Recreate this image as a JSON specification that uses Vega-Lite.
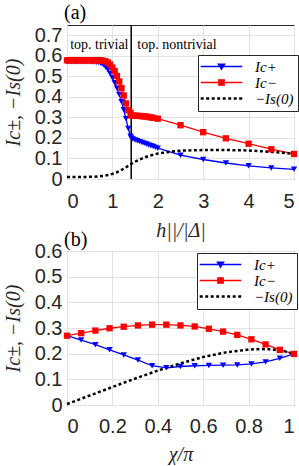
{
  "$schema": "https://vega.github.io/schema/vega-lite/v6.json",
  "background": "white",
  "padding": {"left": 2, "top": 2, "right": 0, "bottom": 0},
  "datasets": {
    "a": [
      {"x": 0.0, "y": 0.571, "s": "Ic+"}, {"x": 0.05, "y": 0.571, "s": "Ic+"}, {"x": 0.1, "y": 0.571, "s": "Ic+"}, {"x": 0.15, "y": 0.571, "s": "Ic+"}, {"x": 0.2, "y": 0.571, "s": "Ic+"}, {"x": 0.25, "y": 0.571, "s": "Ic+"}, {"x": 0.3, "y": 0.571, "s": "Ic+"}, {"x": 0.35, "y": 0.571, "s": "Ic+"}, {"x": 0.4, "y": 0.571, "s": "Ic+"}, {"x": 0.45, "y": 0.571, "s": "Ic+"}, {"x": 0.5, "y": 0.571, "s": "Ic+"}, {"x": 0.55, "y": 0.57, "s": "Ic+"}, {"x": 0.6, "y": 0.57, "s": "Ic+"}, {"x": 0.65, "y": 0.569, "s": "Ic+"}, {"x": 0.7, "y": 0.567, "s": "Ic+"}, {"x": 0.75, "y": 0.563, "s": "Ic+"}, {"x": 0.8, "y": 0.556, "s": "Ic+"}, {"x": 0.85, "y": 0.546, "s": "Ic+"}, {"x": 0.9, "y": 0.532, "s": "Ic+"}, {"x": 0.95, "y": 0.514, "s": "Ic+"}, {"x": 1.0, "y": 0.493, "s": "Ic+"}, {"x": 1.05, "y": 0.469, "s": "Ic+"}, {"x": 1.1, "y": 0.442, "s": "Ic+"}, {"x": 1.15, "y": 0.411, "s": "Ic+"}, {"x": 1.2, "y": 0.376, "s": "Ic+"}, {"x": 1.25, "y": 0.337, "s": "Ic+"}, {"x": 1.3, "y": 0.293, "s": "Ic+"}, {"x": 1.35, "y": 0.246, "s": "Ic+"}, {"x": 1.4, "y": 0.208, "s": "Ic+"}, {"x": 1.414, "y": 0.2, "s": "Ic+"}, {"x": 1.45, "y": 0.195, "s": "Ic+"}, {"x": 1.5, "y": 0.19, "s": "Ic+"}, {"x": 1.55, "y": 0.186, "s": "Ic+"}, {"x": 1.6, "y": 0.182, "s": "Ic+"}, {"x": 1.65, "y": 0.178, "s": "Ic+"}, {"x": 1.7, "y": 0.174, "s": "Ic+"}, {"x": 1.75, "y": 0.17, "s": "Ic+"}, {"x": 1.8, "y": 0.166, "s": "Ic+"}, {"x": 1.85, "y": 0.162, "s": "Ic+"}, {"x": 1.9, "y": 0.158, "s": "Ic+"}, {"x": 1.95, "y": 0.154, "s": "Ic+"}, {"x": 2.0, "y": 0.15, "s": "Ic+"}, {"x": 2.5, "y": 0.116, "s": "Ic+"}, {"x": 3.0, "y": 0.095, "s": "Ic+"}, {"x": 3.5, "y": 0.078, "s": "Ic+"}, {"x": 4.0, "y": 0.064, "s": "Ic+"}, {"x": 4.5, "y": 0.054, "s": "Ic+"}, {"x": 5.0, "y": 0.047, "s": "Ic+"},
      {"x": 0.0, "y": 0.578, "s": "Ic−"}, {"x": 0.05, "y": 0.578, "s": "Ic−"}, {"x": 0.1, "y": 0.578, "s": "Ic−"}, {"x": 0.15, "y": 0.578, "s": "Ic−"}, {"x": 0.2, "y": 0.578, "s": "Ic−"}, {"x": 0.25, "y": 0.578, "s": "Ic−"}, {"x": 0.3, "y": 0.578, "s": "Ic−"}, {"x": 0.35, "y": 0.578, "s": "Ic−"}, {"x": 0.4, "y": 0.578, "s": "Ic−"}, {"x": 0.45, "y": 0.578, "s": "Ic−"}, {"x": 0.5, "y": 0.578, "s": "Ic−"}, {"x": 0.55, "y": 0.578, "s": "Ic−"}, {"x": 0.6, "y": 0.578, "s": "Ic−"}, {"x": 0.65, "y": 0.578, "s": "Ic−"}, {"x": 0.7, "y": 0.578, "s": "Ic−"}, {"x": 0.75, "y": 0.577, "s": "Ic−"}, {"x": 0.8, "y": 0.576, "s": "Ic−"}, {"x": 0.85, "y": 0.573, "s": "Ic−"}, {"x": 0.9, "y": 0.567, "s": "Ic−"}, {"x": 0.95, "y": 0.557, "s": "Ic−"}, {"x": 1.0, "y": 0.543, "s": "Ic−"}, {"x": 1.05, "y": 0.525, "s": "Ic−"}, {"x": 1.1, "y": 0.502, "s": "Ic−"}, {"x": 1.15, "y": 0.475, "s": "Ic−"}, {"x": 1.2, "y": 0.443, "s": "Ic−"}, {"x": 1.25, "y": 0.407, "s": "Ic−"}, {"x": 1.3, "y": 0.368, "s": "Ic−"}, {"x": 1.35, "y": 0.335, "s": "Ic−"}, {"x": 1.4, "y": 0.322, "s": "Ic−"}, {"x": 1.414, "y": 0.31, "s": "Ic−"}, {"x": 1.45, "y": 0.308, "s": "Ic−"}, {"x": 1.5, "y": 0.308, "s": "Ic−"}, {"x": 1.55, "y": 0.308, "s": "Ic−"}, {"x": 1.6, "y": 0.307, "s": "Ic−"}, {"x": 1.65, "y": 0.306, "s": "Ic−"}, {"x": 1.7, "y": 0.305, "s": "Ic−"}, {"x": 1.75, "y": 0.304, "s": "Ic−"}, {"x": 1.8, "y": 0.302, "s": "Ic−"}, {"x": 1.85, "y": 0.3, "s": "Ic−"}, {"x": 1.9, "y": 0.298, "s": "Ic−"}, {"x": 2.0, "y": 0.294, "s": "Ic−"}, {"x": 2.5, "y": 0.262, "s": "Ic−"}, {"x": 3.0, "y": 0.228, "s": "Ic−"}, {"x": 3.5, "y": 0.198, "s": "Ic−"}, {"x": 4.0, "y": 0.172, "s": "Ic−"}, {"x": 4.5, "y": 0.145, "s": "Ic−"}, {"x": 5.0, "y": 0.122, "s": "Ic−"},
      {"x": 0.0, "y": 0.01, "s": "−Is(0)"}, {"x": 0.2, "y": 0.01, "s": "−Is(0)"}, {"x": 0.4, "y": 0.01, "s": "−Is(0)"}, {"x": 0.6, "y": 0.011, "s": "−Is(0)"}, {"x": 0.8, "y": 0.015, "s": "−Is(0)"}, {"x": 0.9, "y": 0.019, "s": "−Is(0)"}, {"x": 1.0, "y": 0.025, "s": "−Is(0)"}, {"x": 1.1, "y": 0.033, "s": "−Is(0)"}, {"x": 1.2, "y": 0.044, "s": "−Is(0)"}, {"x": 1.3, "y": 0.057, "s": "−Is(0)"}, {"x": 1.414, "y": 0.073, "s": "−Is(0)"}, {"x": 1.5, "y": 0.084, "s": "−Is(0)"}, {"x": 1.6, "y": 0.095, "s": "−Is(0)"}, {"x": 1.7, "y": 0.104, "s": "−Is(0)"}, {"x": 1.8, "y": 0.112, "s": "−Is(0)"}, {"x": 1.9, "y": 0.118, "s": "−Is(0)"}, {"x": 2.0, "y": 0.124, "s": "−Is(0)"}, {"x": 2.25, "y": 0.132, "s": "−Is(0)"}, {"x": 2.5, "y": 0.138, "s": "−Is(0)"}, {"x": 3.0, "y": 0.141, "s": "−Is(0)"}, {"x": 3.5, "y": 0.141, "s": "−Is(0)"}, {"x": 4.0, "y": 0.139, "s": "−Is(0)"}, {"x": 4.5, "y": 0.132, "s": "−Is(0)"}, {"x": 5.0, "y": 0.123, "s": "−Is(0)"}
    ],
    "b": [
      {"x": 0.0, "y": 0.27, "s": "Ic+"}, {"x": 0.0625, "y": 0.253, "s": "Ic+"}, {"x": 0.125, "y": 0.235, "s": "Ic+"}, {"x": 0.1875, "y": 0.215, "s": "Ic+"}, {"x": 0.25, "y": 0.195, "s": "Ic+"}, {"x": 0.3125, "y": 0.175, "s": "Ic+"}, {"x": 0.375, "y": 0.153, "s": "Ic+"}, {"x": 0.4375, "y": 0.145, "s": "Ic+"}, {"x": 0.5, "y": 0.15, "s": "Ic+"}, {"x": 0.5625, "y": 0.153, "s": "Ic+"}, {"x": 0.625, "y": 0.154, "s": "Ic+"}, {"x": 0.6875, "y": 0.155, "s": "Ic+"}, {"x": 0.75, "y": 0.156, "s": "Ic+"}, {"x": 0.8125, "y": 0.16, "s": "Ic+"}, {"x": 0.875, "y": 0.168, "s": "Ic+"}, {"x": 0.9375, "y": 0.182, "s": "Ic+"}, {"x": 1.0, "y": 0.199, "s": "Ic+"},
      {"x": 0.0, "y": 0.27, "s": "Ic−"}, {"x": 0.0625, "y": 0.28, "s": "Ic−"}, {"x": 0.125, "y": 0.29, "s": "Ic−"}, {"x": 0.1875, "y": 0.299, "s": "Ic−"}, {"x": 0.25, "y": 0.305, "s": "Ic−"}, {"x": 0.3125, "y": 0.31, "s": "Ic−"}, {"x": 0.375, "y": 0.313, "s": "Ic−"}, {"x": 0.4375, "y": 0.313, "s": "Ic−"}, {"x": 0.5, "y": 0.31, "s": "Ic−"}, {"x": 0.5625, "y": 0.306, "s": "Ic−"}, {"x": 0.625, "y": 0.297, "s": "Ic−"}, {"x": 0.6875, "y": 0.286, "s": "Ic−"}, {"x": 0.75, "y": 0.273, "s": "Ic−"}, {"x": 0.8125, "y": 0.256, "s": "Ic−"}, {"x": 0.875, "y": 0.236, "s": "Ic−"}, {"x": 0.9375, "y": 0.215, "s": "Ic−"}, {"x": 1.0, "y": 0.199, "s": "Ic−"},
      {"x": 0.0, "y": 0.004, "s": "−Is(0)"}, {"x": 0.05, "y": 0.02, "s": "−Is(0)"}, {"x": 0.1, "y": 0.037, "s": "−Is(0)"}, {"x": 0.2, "y": 0.07, "s": "−Is(0)"}, {"x": 0.3, "y": 0.103, "s": "−Is(0)"}, {"x": 0.4, "y": 0.134, "s": "−Is(0)"}, {"x": 0.5, "y": 0.162, "s": "−Is(0)"}, {"x": 0.6, "y": 0.187, "s": "−Is(0)"}, {"x": 0.7, "y": 0.205, "s": "−Is(0)"}, {"x": 0.8, "y": 0.216, "s": "−Is(0)"}, {"x": 0.85, "y": 0.218, "s": "−Is(0)"}, {"x": 0.9, "y": 0.217, "s": "−Is(0)"}, {"x": 0.95, "y": 0.211, "s": "−Is(0)"}, {"x": 1.0, "y": 0.2, "s": "−Is(0)"}
    ],
    "trans": [{"h": 1.4142}],
    "notes": [{"x": 0.07, "y": 0.655, "t": "top. trivial"}, {"x": 1.55, "y": 0.655, "t": "top. nontrivial"}]
  },
  "config": {
    "view": {"stroke": "#262626", "strokeWidth": 1},
    "axis": {
      "labelFont": "Liberation Sans", "labelFontSize": 20, "labelColor": "#262626", "labelOverlap": false,
      "ticks": false, "domain": false, "grid": true, "gridColor": "#e2e2e2", "gridWidth": 1,
      "titleFont": "Liberation Serif", "titleFontStyle": "italic", "titleFontWeight": "normal",
      "titleFontSize": 20, "titleColor": "#262626"
    },
    "title": {"font": "Liberation Serif", "fontSize": 20, "fontWeight": "normal", "anchor": "start", "frame": "group", "color": "black", "offset": 1, "dx": -3},
    "legend": {
      "orient": "none", "title": null, "strokeColor": "#262626", "fillColor": "white", "padding": 4,
      "symbolSize": 256, "symbolOffset": 12, "labelOffset": 26, "rowPadding": 0,
      "labelFont": "Liberation Serif", "labelFontStyle": "italic", "labelFontSize": 15, "labelColor": "black",
      "cornerRadius": 0
    }
  },
  "spacing": 72,
  "bounds": "flush",
  "resolve": {"scale": {"color": "independent", "shape": "independent"}, "legend": {"color": "independent"}},
  "vconcat": [
    {
      "width": 227, "height": 154,
      "title": {"text": "(a)"},
      "encoding": {
        "x": {"type": "quantitative", "scale": {"domain": [0, 5], "nice": false},
              "axis": {"values": [0, 1, 2, 3, 4, 5], "labelOverlap": false, "title": "h||/|Δ|", "labelPadding": 12, "titlePadding": 9}},
        "y": {"type": "quantitative", "scale": {"domain": [0, 0.75], "nice": false},
              "axis": {"values": [0, 0.1, 0.2, 0.3, 0.4, 0.5, 0.6, 0.7], "tickCount": 8, "labelOverlap": false, "format": ".1~f", "title": "Ic±, −Is(0)", "labelPadding": 5, "titleX": -44}}
      },
      "layer": [
        {
          "data": {"name": "a"},
          "transform": [{"filter": "datum.s !== '−Is(0)'"}],
          "mark": {"type": "line", "strokeWidth": 1.3},
          "encoding": {
            "x": {"field": "x"},
            "y": {"field": "y"},
            "color": {"field": "s", "type": "nominal",
                      "scale": {"domain": ["Ic+", "Ic−", "−Is(0)"], "range": ["#0000ff", "#ff0000", "#000000"]},
                      "legend": {"legendX": 131, "legendY": 30,
                        "encode": {"symbols": {"update": {
                          "shape": {"signal": "datum.value === 'Ic+' ? 'M-2.6,0H2.6M-0.4,-0.3L0.4,-0.3L0,0.35Z' : datum.value === 'Ic−' ? 'M-2.6,0H2.6M-0.34,-0.34H0.34V0.34H-0.34Z' : 'M-2.6,0H2.6'"},
                          "fill": {"signal": "datum.value === 'Ic+' ? '#0000ff' : datum.value === 'Ic−' ? '#ff0000' : 'transparent'"},
                          "stroke": {"signal": "datum.value === 'Ic+' ? '#0000ff' : datum.value === 'Ic−' ? '#ff0000' : '#000000'"},
                          "strokeDash": {"signal": "datum.value === '−Is(0)' ? [3, 2.5] : [1, 0]"},
                          "strokeWidth": {"signal": "datum.value === '−Is(0)' ? 2.5 : 1.3"},
                          "opacity": {"value": 1}
                        }}}}}
          }
        },
        {
          "data": {"name": "trans"},
          "mark": {"type": "rule", "color": "black", "strokeWidth": 1.5},
          "encoding": {"x": {"field": "h"}, "y": null}
        },
        {
          "data": {"name": "a"},
          "transform": [{"filter": "datum.s === '−Is(0)'"}],
          "mark": {"type": "line", "strokeWidth": 2.5, "strokeDash": [3, 2.5]},
          "encoding": {
            "x": {"field": "x"},
            "y": {"field": "y"},
            "color": {"field": "s", "type": "nominal"}
          }
        },
        {
          "data": {"name": "a"},
          "transform": [{"filter": "datum.s !== '−Is(0)'"}],
          "mark": {"type": "point", "filled": true, "size": 40, "opacity": 1},
          "encoding": {
            "x": {"field": "x"},
            "y": {"field": "y"},
            "color": {"field": "s", "type": "nominal"},
            "shape": {"field": "s", "type": "nominal", "scale": {"domain": ["Ic+", "Ic−"], "range": ["triangle-down", "square"]}, "legend": null}
          }
        },
        {
          "data": {"name": "notes"},
          "mark": {"type": "text", "align": "left", "baseline": "middle", "font": "Liberation Serif", "fontSize": 14, "color": "black"},
          "encoding": {
            "x": {"field": "x"},
            "y": {"field": "y"},
            "text": {"field": "t"}
          }
        }
      ]
    },
    {
      "width": 227, "height": 154,
      "title": {"text": "(b)", "dy": 10},
      "data": {"name": "b"},
      "encoding": {
        "x": {"field": "x", "type": "quantitative", "scale": {"domain": [0, 1], "nice": false},
              "axis": {"values": [0, 0.2, 0.4, 0.6, 0.8, 1], "labelOverlap": false, "format": ".1~f", "title": "χ/π", "labelPadding": 11, "titlePadding": 8}},
        "y": {"field": "y", "type": "quantitative", "scale": {"domain": [0, 0.6], "nice": false},
              "axis": {"values": [0, 0.1, 0.2, 0.3, 0.4, 0.5, 0.6], "tickCount": 7, "labelOverlap": false, "format": ".1~f", "title": "Ic±, −Is(0)", "labelPadding": 5, "titleX": -44}}
      },
      "layer": [
        {
          "transform": [{"filter": "datum.s !== '−Is(0)'"}],
          "mark": {"type": "line", "strokeWidth": 1.3},
          "encoding": {
            "color": {"field": "s", "type": "nominal",
                      "scale": {"domain": ["Ic+", "Ic−", "−Is(0)"], "range": ["#0000ff", "#ff0000", "#000000"]},
                      "legend": {"legendX": 130, "legendY": 2,
                        "encode": {"symbols": {"update": {
                          "shape": {"signal": "datum.value === 'Ic+' ? 'M-2.6,0H2.6M-0.4,-0.3L0.4,-0.3L0,0.35Z' : datum.value === 'Ic−' ? 'M-2.6,0H2.6M-0.34,-0.34H0.34V0.34H-0.34Z' : 'M-2.6,0H2.6'"},
                          "fill": {"signal": "datum.value === 'Ic+' ? '#0000ff' : datum.value === 'Ic−' ? '#ff0000' : 'transparent'"},
                          "stroke": {"signal": "datum.value === 'Ic+' ? '#0000ff' : datum.value === 'Ic−' ? '#ff0000' : '#000000'"},
                          "strokeDash": {"signal": "datum.value === '−Is(0)' ? [3, 2.5] : [1, 0]"},
                          "strokeWidth": {"signal": "datum.value === '−Is(0)' ? 2.5 : 1.3"},
                          "opacity": {"value": 1}
                        }}}}}
          }
        },
        {
          "transform": [{"filter": "datum.s === '−Is(0)'"}],
          "mark": {"type": "line", "strokeWidth": 2.5, "strokeDash": [3, 2.5]},
          "encoding": {
            "color": {"field": "s", "type": "nominal"}
          }
        },
        {
          "transform": [{"filter": "datum.s !== '−Is(0)'"}],
          "mark": {"type": "point", "filled": true, "size": 40, "opacity": 1},
          "encoding": {
            "color": {"field": "s", "type": "nominal"},
            "shape": {"field": "s", "type": "nominal", "scale": {"domain": ["Ic+", "Ic−"], "range": ["triangle-down", "square"]}, "legend": null}
          }
        }
      ]
    }
  ]
}
